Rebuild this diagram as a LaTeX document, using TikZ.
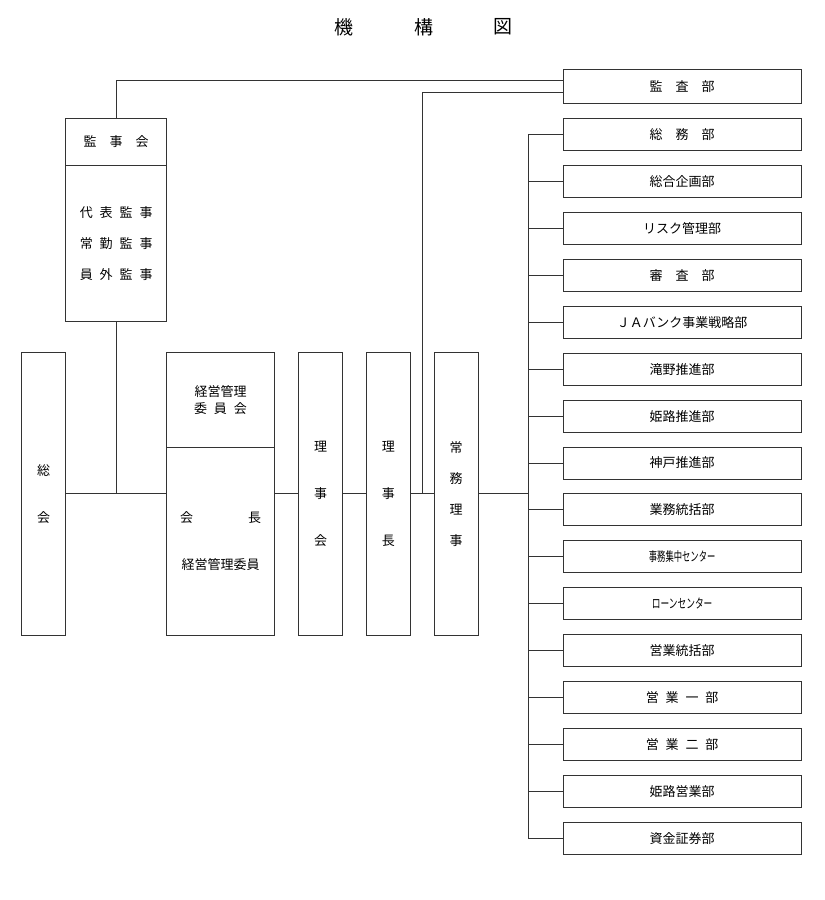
\documentclass[tikz,border=0pt]{standalone}
\usepackage{fontspec}
\setmainfont{Noto Sans CJK JP}
\usepackage{graphicx}
\newcommand{\gp}{\hspace{0.53em}}
\begin{document}
\begin{tikzpicture}[x=1pt,y=-1pt,
  every node/.style={inner sep=0pt,outer sep=0pt},
  bx/.style={draw=black!80,line width=0.9pt,align=center},
  ln/.style={draw=black!80,line width=0.9pt},
  nf/.style={font=\fontsize{13}{16}\selectfont},
  tall/.style={bx,minimum height=282.3pt},
  rbox/.style={bx,nf,minimum width=237.7pt,minimum height=32pt},
  ttl/.style={font=\fontsize{19}{22}\selectfont}]
\useasboundingbox (0,0) rectangle (825,900);
% title
\node[ttl] (t1) at (344,27) {機};
\node[ttl] (t2) at (424,27) {構};
\node[ttl] (t3) at (503,27) {図};
% kanjikai
\node[bx,nf,minimum width=101pt,minimum height=46.6pt] (kjtop) at (116.2,142) {監　事　会};
\node[bx,font=\fontsize{13}{31}\selectfont,minimum width=101pt,minimum height=156pt,anchor=north] (kjbot) at (kjtop.south) {代\gp 表\gp 監\gp 事\\常\gp 勤\gp 監\gp 事\\員\gp 外\gp 監\gp 事};
% soukai
\node[tall,font=\fontsize{13}{46.6}\selectfont,minimum width=44.4pt] (soukai) at (43.5,493.9) {総\\会};
% keiei
\node[bx,font=\fontsize{13}{16.6}\selectfont,minimum width=107.6pt,minimum height=95pt] (ktop) at (220.5,400.2) {経営管理\\委\gp 員\gp 会};
\node[bx,font=\fontsize{13}{46.7}\selectfont,minimum width=107.6pt,minimum height=187.3pt,anchor=north] (kbot) at (ktop.south) {会\hspace{55pt}長\\経営管理委員};
% riji
\node[tall,font=\fontsize{13}{47}\selectfont,minimum width=43.6pt] (rijikai) at (320.5,493.9) {理\\事\\会};
\node[tall,font=\fontsize{13}{47}\selectfont,minimum width=43.3pt] (rijicho) at (388.35,493.9) {理\\事\\長};
\node[tall,font=\fontsize{13}{31.2}\selectfont,minimum width=43.7pt] (joumu) at (456.15,493.9) {常\\務\\理\\事};
% kansa
\node[bx,nf,minimum width=237.7pt,minimum height=34pt] (kansa) at (682.15,86.3) {監　査　部};
% departments
\foreach \t [count=\i from 0] in {{総　務　部},{総合企画部},{リスク管理部},{審　査　部},{ＪＡバンク事業戦略部},{滝野推進部},{姫路推進部},{神戸推進部},{業務統括部},{\scalebox{0.64}[1]{事務集中センター}},{\scalebox{0.67}[1]{ローンセンター}},{営業統括部},{営\gp 業\gp 一\gp 部},{営\gp 業\gp 二\gp 部},{姫路営業部},{資金証券部}} {
  \node[rbox] (d\i) at (682.15,{134.5+46.93*\i}) {\t};
  \coordinate (b\i) at (528.3,{134.5+46.93*\i});
  \draw[ln] (b\i) -- (d\i.west);
}
\draw[ln] (b0) -- (b15);
% main line
\coordinate (kjjoin) at (kjbot.south |- soukai.east);
\coordinate (kup) at (422.3,494.3);
\draw[ln] (soukai.east) -- (soukai.east -| kbot.west);
\draw[ln] (kbot.south) ++(0,0);
\draw[ln] (kjbot.south) -- (kjjoin);
\draw[ln] (soukai.east -| kbot.east) -- (soukai.east -| rijikai.west);
\draw[ln] (rijikai.east) -- (rijicho.west);
\draw[ln] (rijicho.east) -- (joumu.west);
\draw[ln] (joumu.east) -- (joumu.east -| b0);
% audit lines
\coordinate (a1) at (116.2,80.7);
\coordinate (a2) at (422.3,92.3);
\draw[ln] (kjtop.north) -- (a1) -- (a1 -| kansa.west);
\draw[ln] (joumu.west -| kup) -- (a2) -- (a2 -| kansa.west);
\end{tikzpicture}
\end{document}
